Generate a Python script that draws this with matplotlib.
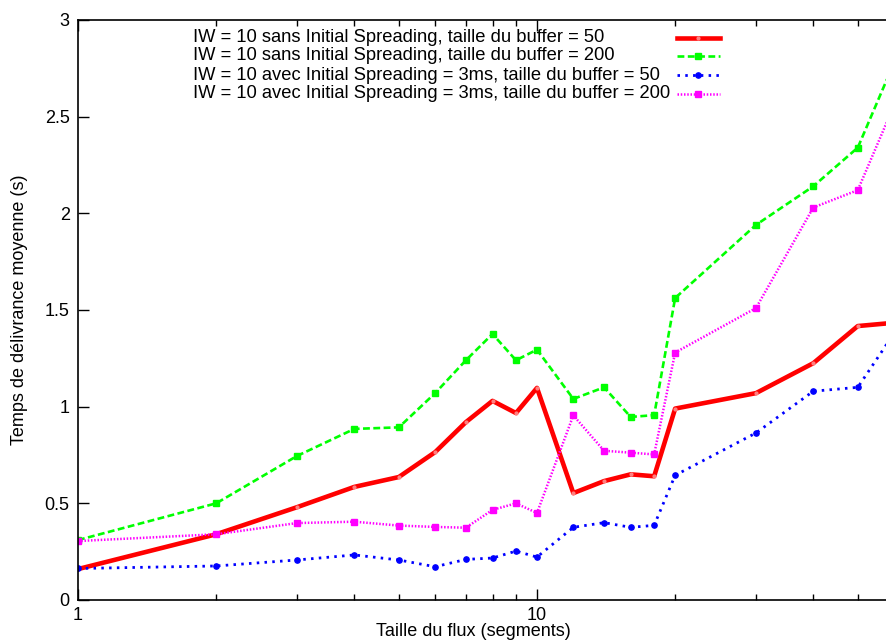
import matplotlib
matplotlib.use("Agg")
import matplotlib.pyplot as plt
from matplotlib.lines import Line2D
from matplotlib.ticker import FixedLocator, NullFormatter, FixedFormatter

plt.rcParams['font.family'] = ['Liberation Sans', 'DejaVu Sans']

x = [1, 2, 3, 4, 5, 6, 7, 8, 9, 10, 12, 14, 16, 18, 20, 30, 40, 50, 60]

red = [0.16, 0.34, 0.48, 0.585, 0.636, 0.765, 0.92, 1.03, 0.967, 1.097,
       0.553, 0.615, 0.65, 0.64, 0.99, 1.07, 1.225, 1.417, 1.434]
green = [0.31, 0.50, 0.745, 0.885, 0.893, 1.07, 1.24, 1.376, 1.24, 1.295,
         1.04, 1.10, 0.947, 0.956, 1.562, 1.94, 2.14, 2.34, 2.78]
blue = [0.163, 0.176, 0.207, 0.233, 0.207, 0.172, 0.21, 0.217, 0.253, 0.222,
        0.376, 0.40, 0.376, 0.386, 0.645, 0.864, 1.08, 1.10, 1.38]
magenta = [0.305, 0.34, 0.398, 0.405, 0.385, 0.378, 0.374, 0.466, 0.50, 0.45,
           0.955, 0.772, 0.762, 0.753, 1.28, 1.51, 2.03, 2.12, 2.56]

labels = [
    "IW = 10 sans Initial Spreading, taille du buffer = 50",
    "IW = 10 sans Initial Spreading, taille du buffer = 200",
    "IW = 10 avec Initial Spreading = 3ms, taille du buffer = 50",
    "IW = 10 avec Initial Spreading = 3ms, taille du buffer = 200",
]

W, H = 886, 642
fig = plt.figure(figsize=(W / 100, H / 100), dpi=100)
ax = fig.add_axes([78 / W, 42 / H, (W - 78) / W, 580 / H])

styles = [
    dict(color='#ff0000', lw=3.3, ls='-', marker='o', ms=2.0, mfc='#ff8080', mec='#ff8080'),
    dict(color='#00ff00', lw=1.9, dashes=(2.6, 1.3), marker='s', ms=3.8),
    dict(color='#0000ff', lw=2.0, dashes=(0.9, 1.9), marker='o', ms=3.8),
    dict(color='#ff00ff', lw=1.8, dashes=(0.6, 0.7), marker='s', ms=3.8),
]
series = [red, green, blue, magenta]
for ys, st in zip(series, styles):
    ax.plot(x, ys, **st)

ax.set_xscale('log')
ax.set_xlim(1, 57.6)
ax.set_ylim(0, 3)
ax.xaxis.set_major_locator(FixedLocator([1, 10]))
ax.xaxis.set_major_formatter(FixedFormatter(["1", "10"]))
ax.xaxis.set_minor_locator(FixedLocator([2, 3, 4, 5, 6, 7, 8, 9, 20, 30, 40, 50]))
ax.xaxis.set_minor_formatter(NullFormatter())
ax.set_yticks([0, 0.5, 1, 1.5, 2, 2.5, 3])
ax.set_yticklabels(["0", "0.5", "1", "1.5", "2", "2.5", "3"])
ax.tick_params(axis='y', which='major', direction='in', length=8, width=1,
               labelsize=13, right=False, pad=6)
ax.tick_params(axis='x', which='major', direction='in', length=8, width=1,
               labelsize=13, top=True, pad=5)
ax.tick_params(axis='x', which='minor', direction='in', length=4, width=1, top=True)
ax.spines['right'].set_visible(False)
for s in ['left', 'top', 'bottom']:
    ax.spines[s].set_linewidth(1.2)

ax.set_xlabel("Taille du flux (segments)", fontsize=13)
ax.xaxis.set_label_coords((473 - 78) / (W - 78), -0.040)
ax.set_ylabel("Temps de délivrance moyenne (s)", fontsize=13)
ax.yaxis.set_label_coords(-(78 - 28) / (W - 78), 0.5)

# manual legend (gnuplot style)
rows = [38, 56, 75, 94]
for lab, st, ry in zip(labels, styles, rows):
    fy = 1 - ry / H
    fig.text(193 / W, fy, lab, fontsize=13.2, ha='left', va='center')
    ln = Line2D([677 / W, 720 / W], [fy, fy], transform=fig.transFigure,
                **{k: v for k, v in st.items() if k not in ('marker', 'ms', 'mfc', 'mec')})
    fig.add_artist(ln)
    mk = Line2D([698 / W], [fy], transform=fig.transFigure, ls='none',
                marker=st['marker'], ms=st['ms'], color=st['color'],
                mfc=st.get('mfc', st['color']), mec=st.get('mec', st['color']))
    fig.add_artist(mk)

fig.savefig("out.png", dpi=100)
